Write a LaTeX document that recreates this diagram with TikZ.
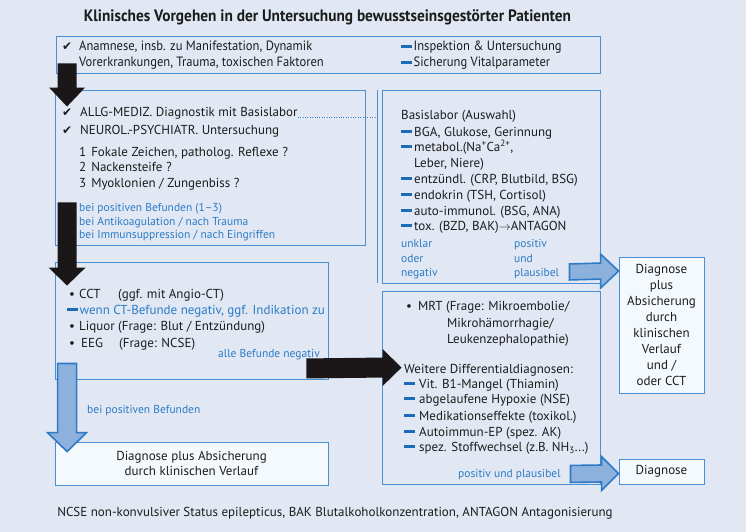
\documentclass[tikz,border=0pt]{standalone}
\usepackage{fontspec}
\setmainfont{PT Sans}
\newfontfamily\condfont[FakeStretch=0.93]{PT Sans}
\newfontfamily\chkfont{DejaVu Sans}
\usetikzlibrary{calc,fit}
\definecolor{bgc}{HTML}{E1E8F4}
\definecolor{boxc}{HTML}{4A8FD3}
\definecolor{txtc}{HTML}{1C1C1C}
\definecolor{bluet}{HTML}{2B7BC6}
\definecolor{dashc}{HTML}{1E6BB8}
\definecolor{afill}{HTML}{8DB1DD}
\definecolor{aborder}{HTML}{2F7AC4}
\definecolor{wfill}{HTML}{F4F9FE}
\definecolor{blk}{HTML}{1B1718}
\newcommand\bdash[1][2.5pt]{{\color{dashc}\rule[3pt]{10.5pt}{3.2pt}}\hspace{#1}}
\newcommand\chkmark{{\chkfont\fontsize{12}{13}\selectfont\char"2714}}
\newcommand\chk{\makebox[18pt][l]{\chkmark}}
\newcommand\blkarrowV[6]{\path[#1] ($(#2)+(-#4,0)$) -- ($(#3)+(-#4,-#6)$) -- ($(#3)+(-#5,-#6)$) -- (#3) -- ($(#3)+(#5,-#6)$) -- ($(#3)+(#4,-#6)$) -- ($(#2)+(#4,0)$) -- cycle;}
\newcommand\blkarrowH[6]{\path[#1] ($(#2)+(0,-#4)$) -- ($(#3)+(-#6,-#4)$) -- ($(#3)+(-#6,-#5)$) -- (#3) -- ($(#3)+(-#6,#5)$) -- ($(#3)+(-#6,#4)$) -- ($(#2)+(0,#4)$) -- cycle;}
\begin{document}
\begin{tikzpicture}[x=1pt,y=-1pt,
  box/.style={draw=boxc, line width=0.9pt, inner sep=0pt},
  wbox/.style={box, fill=wfill},
  tx/.style={anchor=base west, inner sep=0pt, text=txtc, font=\fontsize{13}{15}\selectfont},
  ctx/.style={anchor=base, inner sep=0pt, text=txtc, font=\fontsize{13}{15}\selectfont},
  btx/.style={tx, text=bluet, font=\fontsize{11.5}{13}\selectfont},
  cond/.style={font=\condfont\fontsize{13.5}{15}\selectfont},
  blkarr/.style={fill=blk},
  bluarr/.style={fill=afill, draw=aborder, line width=1.6pt, line join=miter},
]
\fill[bgc] (0,0) rectangle (746,532);
\useasboundingbox (0,0) rectangle (746,532);

\node[ctx, font=\condfont\bfseries\fontsize{16.5}{18}\selectfont] (title) at (327.5,22) {Klinisches Vorgehen in der Untersuchung bewusstseinsgestörter Patienten};

% top box
\node[box, fit={(56,36) (600,73)}] (top) {};
\node[tx, cond] (top1) at (62,51) {\makebox[17pt][l]{\chkmark}Anamnese, insb. zu Manifestation, Dynamik};
\node[tx, cond] (top2) at (79,67) {Vorerkrankungen, Trauma, toxischen Faktoren};
\node[tx, cond] (top3) at (401,51) {\bdash[2pt]Inspektion \& Untersuchung};
\node[tx, cond] (top4) at (401,67) {\bdash[2pt]Sicherung Vitalparameter};

% box 2
\node[box, fit={(55,90) (365,245)}] (b2) {};
\node[tx] (b2a) at (62,117) {\chk ALLG-MEDIZ. Diagnostik mit Basislabor};
\node[tx] (b2b) at (62,134) {\chk NEUROL.-PSYCHIATR. Untersuchung};
\node[tx] (b2c) at (79,156) {1\hspace{5pt}Fokale Zeichen, patholog. Reflexe ?};
\node[tx] (b2d) at (79,171) {2\hspace{5pt}Nackensteife ?};
\node[tx] (b2e) at (79,187) {3\hspace{5pt}Myoklonien / Zungenbiss ?};
\node[btx] (b2f) at (79,211) {bei positiven Befunden (1--3)};
\node[btx] (b2g) at (79,225) {bei Antikoagulation / nach Trauma};
\node[btx] (b2h) at (79,238) {bei Immunsuppression / nach Eingriffen};

% Basislabor box
\node[box, fit={(382,90) (600,283)}] (lab) {};
\draw[boxc, line width=0.9pt] ($(lab.north west)+(-4,0)$) -- ($(lab.south west)+(-4,0)$);
\draw[bluet, line width=0.8pt, dash pattern=on 0.8pt off 1.6pt] (b2a.base east) -- ($(lab.west |- b2a.base east)+(-4,0)$);
\node[tx] (l0) at (401,119) {Basislabor (Auswahl)};
\node[tx] (l1) at (401,136) {\bdash BGA, Glukose, Gerinnung};
\node[tx] (l2) at (401,151) {\bdash metabol.(Na\textsuperscript{+}Ca\textsuperscript{2+},};
\node[tx] (l3) at (414,167) {Leber, Niere)};
\node[tx] (l4) at (401,183) {\bdash entzündl. (CRP, Blutbild, BSG)};
\node[tx] (l5) at (401,199) {\bdash endokrin (TSH, Cortisol)};
\node[tx] (l6) at (401,215) {\bdash auto-immunol. (BSG, ANA)};
\node[tx] (l7) at (401,230) {\bdash tox. (BZD, BAK)$\rightarrow$ANTAGON};
\node[btx] (u1) at (401,247) {unklar};
\node[btx] (u2) at (401,262) {oder};
\node[btx] (u3) at (401,276) {negativ};
\node[btx] (p1) at (514,247) {positiv};
\node[btx] (p2) at (514,262) {und};
\node[btx] (p3) at (514,276) {plausibel};

% Diagnose 1
\node[wbox, fit={(619,257) (704,393)}] (d1) {};
\node[ctx, anchor=center, align=center, font=\fontsize{13}{16}\selectfont] (d1t) at (d1.center) {Diagnose\\plus\\Absicherung\\durch\\klinischen\\Verlauf\\und /\\oder CCT};

% box 3
\node[box, fit={(55,262) (328,379)}] (b3) {};
\node[tx] (c1) at (69,298) {\makebox[10pt][l]{•}\makebox[39pt][l]{CCT}(ggf. mit Angio-CT)};
\node[tx, text=bluet] (c2) at (67,314) {\bdash[2pt]wenn CT-Befunde negativ, ggf. Indikation zu};
\node[tx] (c3) at (69,330) {\makebox[10pt][l]{•}Liquor (Frage: Blut / Entzündung)};
\node[tx] (c4) at (69,347) {\makebox[12pt][l]{•}\makebox[38pt][l]{EEG}(Frage: NCSE)};
\node[btx, anchor=base east] (c5) at (320,357) {alle Befunde negativ};

\node[btx] (bp) at (87,413) {bei positiven Befunden};

% bottom box
\node[wbox, fit={(55,442) (328,485)}] (b4) {};
\node[ctx, anchor=center, align=center, font=\fontsize{13}{15}\selectfont] (b4t) at (b4.center) {Diagnose plus Absicherung\\durch klinischen Verlauf};

% MRT box
\node[box, fit={(382,291) (600,484)}] (mrt) {};
\node[tx] (m1) at (406,310) {\makebox[12pt][l]{•}MRT (Frage: Mikroembolie/};
\node[tx] (m2) at (447,327) {Mikrohämorrhagie/};
\node[tx] (m3) at (447,343) {Leukenzephalopathie)};
\node[tx] (m4) at (404,373) {Weitere Differentialdiagnosen:};
\node[tx] (m5) at (404,388) {\bdash[4.5pt]Vit. B1-Mangel (Thiamin)};
\node[tx] (m6) at (404,403) {\bdash[4.5pt]abgelaufene Hypoxie (NSE)};
\node[tx] (m7) at (404,420) {\bdash[4.5pt]Medikationseffekte (toxikol.)};
\node[tx] (m8) at (404,436) {\bdash[4.5pt]Autoimmun-EP (spez. AK)};
\node[tx] (m9) at (404,451) {\bdash[4.5pt]spez. Stoffwechsel (z.B. NH\textsubscript{3}...)};
\node[btx] (m10) at (458,477) {positiv und plausibel};

% Diagnose 2
\node[wbox, fit={(619,459) (704,484)}] (d2) {};
\node[ctx, anchor=center] (d2t) at (d2.center) {Diagnose};

% footer
\node[ctx] (foot) at (335,516) {NCSE non-konvulsiver Status epilepticus, BAK Blutalkoholkonzentration, ANTAGON Antagonisierung};

% arrows
\coordinate (a1s) at ($(top.south west)+(11.5,-10)$);
\coordinate (a1t) at ($(b2.north west)+(12.5,17)$);
\blkarrowV{blkarr}{a1s}{a1t}{9.5}{18}{19}
\coordinate (a2s) at ($(b2.south west)+(12.5,-43)$);
\coordinate (a2t) at ($(b3.north west)+(12.5,24)$);
\blkarrowV{blkarr}{a2s}{a2t}{9.5}{18.5}{18}
\coordinate (a3s) at ($(b3.south east)+(-22,-11)$);
\coordinate (a3t) at ($(mrt.north west)+(20,77)$);
\blkarrowH{blkarr}{a3s}{a3t}{10}{18.5}{19}
\coordinate (a4s) at ($(b3.south west)+(12.5,-16)$);
\coordinate (a4t) at ($(b4.north west)+(12.5,10)$);
\blkarrowV{bluarr}{a4s}{a4t}{9.5}{19.5}{19}
\coordinate (a5s) at ($(lab.south east)+(-31,-11.5)$);
\coordinate (a5t) at ($(d1.north west)+(0,14.5)$);
\blkarrowH{bluarr}{a5s}{a5t}{8}{17}{18}
\coordinate (a6s) at ($(mrt.south east)+(-30,-10.5)$);
\coordinate (a6t) at ($(d2.west)+(0,2)$);
\blkarrowH{bluarr}{a6s}{a6t}{8.5}{17}{17}
\end{tikzpicture}
\end{document}
